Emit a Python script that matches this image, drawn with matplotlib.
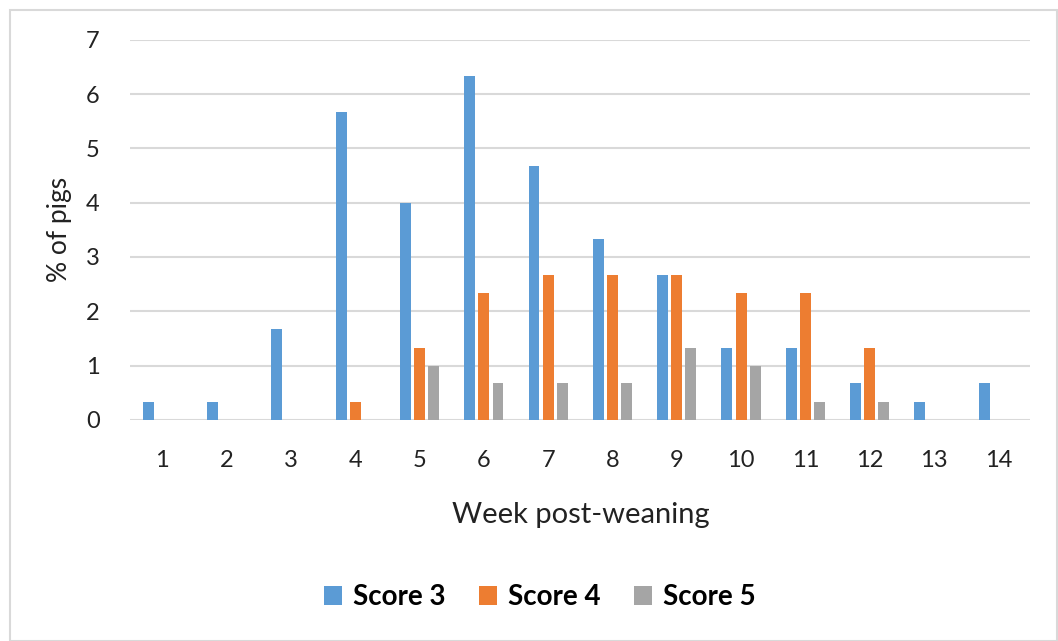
import matplotlib
matplotlib.use("Agg")
import matplotlib.pyplot as plt
import numpy as np
from matplotlib.patches import Rectangle

weeks = [str(i) for i in range(1, 15)]
score3 = [0.33, 0.33, 1.67, 5.67, 4.0, 6.33, 4.67, 3.33, 2.67, 1.33, 1.33, 0.67, 0.33, 0.67]
score4 = [0, 0, 0, 0.33, 1.33, 2.33, 2.67, 2.67, 2.67, 2.33, 2.33, 1.33, 0, 0]
score5 = [0, 0, 0, 0, 1.0, 0.67, 0.67, 0.67, 1.33, 1.0, 0.33, 0.33, 0, 0]
series = [("Score 3", score3, "#5b9bd5"), ("Score 4", score4, "#ed7d31"), ("Score 5", score5, "#a5a5a5")]

plt.rcParams['font.family'] = ['Lato', 'DejaVu Sans']
fig = plt.figure(figsize=(10.58, 6.41), dpi=100)
fig.patches.append(Rectangle((0.009, 0.0), 0.99, 0.984, transform=fig.transFigure,
                             fill=False, edgecolor="#d9d9d9", linewidth=1.5))
ax = fig.add_axes([0.123, 0.345, 0.851, 0.593])
x = np.arange(len(weeks))
w = 0.17
offs = [-0.22, 0, 0.22]
for (name, vals, col), o in zip(series, offs):
    ax.bar(x + o, vals, width=w, color=col, label=name, zorder=3)

ax.set_xlim(-0.5, len(weeks) - 0.5)
ax.set_ylim(0, 7)
ax.set_yticks(range(0, 8))
ax.set_xticks(x)
ax.set_xticklabels(weeks)
ax.yaxis.grid(True, color="#d9d9d9", linewidth=1.5, zorder=0)
for s in ax.spines.values():
    s.set_visible(False)
ax.tick_params(axis='both', length=0, labelsize=17, colors="#222222")
ax.tick_params(axis='x', pad=22)
ax.tick_params(axis='y', pad=22)
ax.set_xlabel("Week post-weaning", fontsize=21, color="#222222", labelpad=22)
ax.set_ylabel("% of pigs", fontsize=19, color="#222222", labelpad=10)
leg = fig.legend(loc='center', bbox_to_anchor=(0.51, 0.068), ncol=3, frameon=False,
                 prop={'size': 20, 'weight': 'bold'}, handlelength=0.65, handleheight=0.65,
                 columnspacing=1.2, handletextpad=0.4)
fig.savefig("out.png", dpi=100)
